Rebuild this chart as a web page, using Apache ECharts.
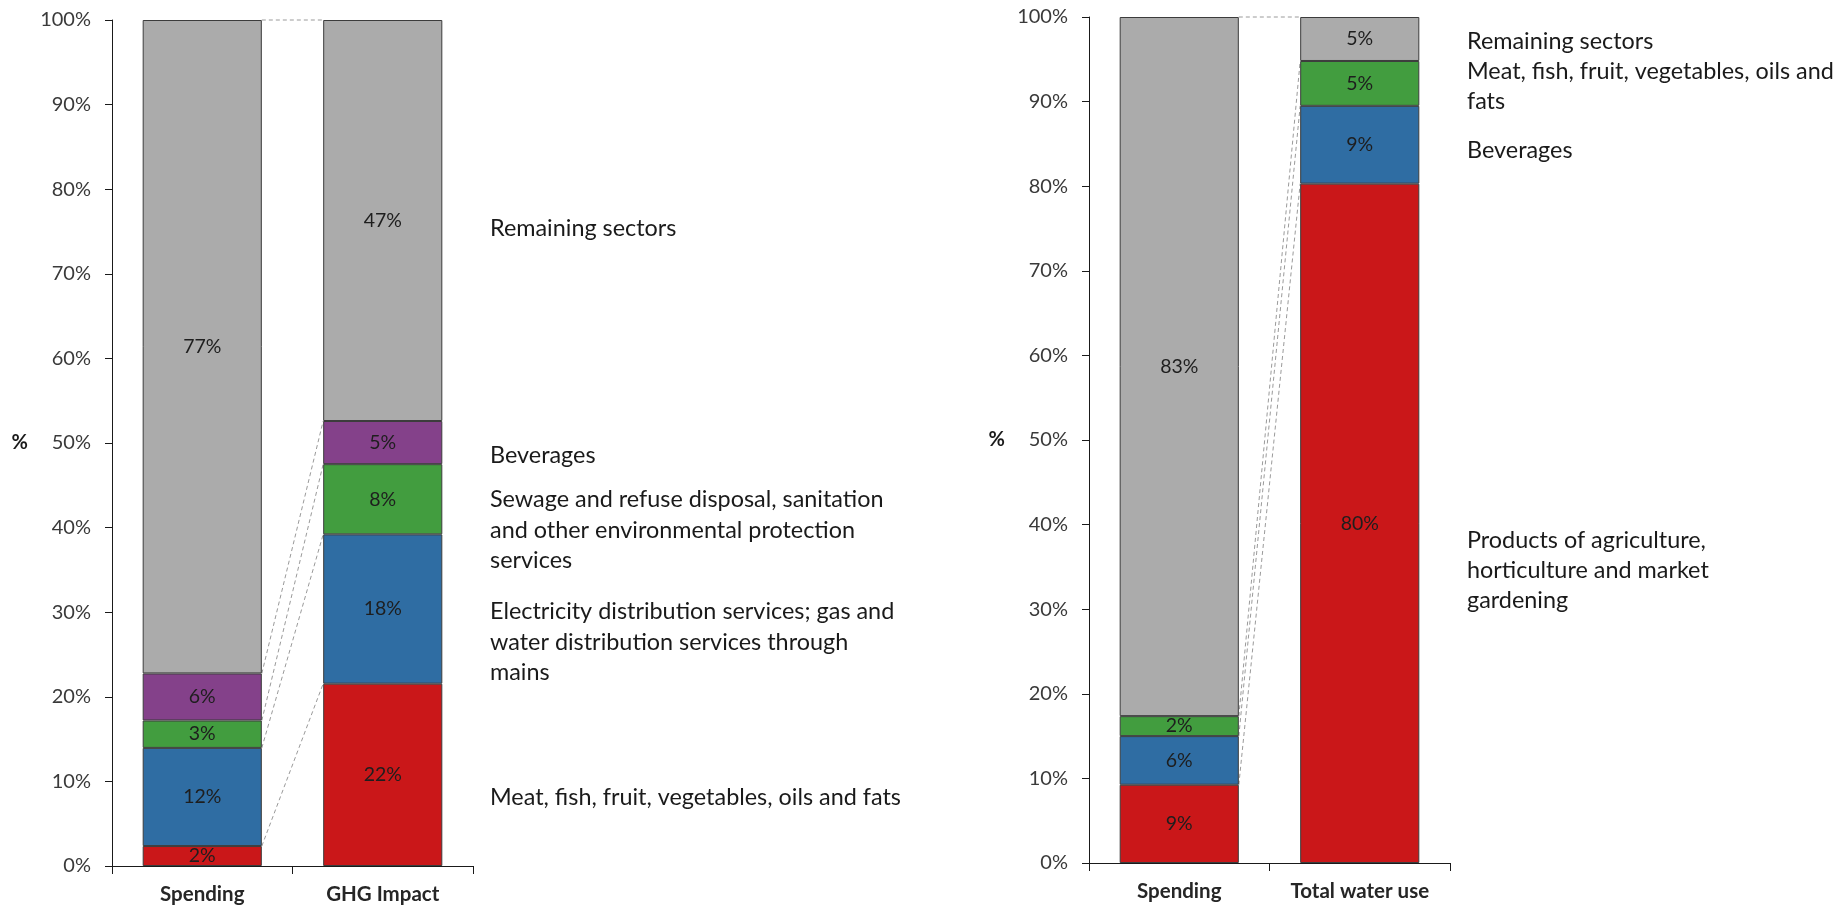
<!DOCTYPE html>
<html>
<head>
<meta charset="utf-8">
<script src="https://cdn.jsdelivr.net/npm/echarts@6/dist/echarts.min.js"></script>
<style>
  html, body { margin: 0; padding: 0; background: #ffffff; }
  #chart { width: 1847px; height: 907px; }
</style>
</head>
<body>
<div id="chart"></div>
<script>
// ---- Left panel: share of spending vs share of greenhouse-gas impact (%) ----
const ghgCategories = ['Spending', 'GHG Impact'];
const ghgMeat        = [2.36, 21.55];
const ghgElectricity = [11.6, 17.65];
const ghgSewage      = [3.24, 8.3];
const ghgBeverages   = [5.56, 5.1];
const ghgRemaining   = [77.24, 47.4];

// ---- Right panel: share of spending vs share of total water use (%) ----
const waterCategories  = ['Spending', 'Total water use'];
const waterAgriculture = [9.25, 80.3];
const waterBeverages   = [5.75, 9.2];
const waterMeat        = [2.36, 5.3];
const waterRemaining   = [82.64, 5.2];

// Sector names written beside each panel
const ghgSectorNames = [
  'Remaining sectors',
  'Beverages',
  'Sewage and refuse disposal, sanitation\nand other environmental protection\nservices',
  'Electricity distribution services; gas and\nwater distribution services through\nmains',
  'Meat, fish, fruit, vegetables, oils and fats'
];
const waterSectorNames = [
  'Remaining sectors',
  'Meat, fish, fruit, vegetables, oils and\nfats',
  'Beverages',
  'Products of agriculture,\nhorticulture and market\ngardening'
];

const COLORS = {
  red: '#CA1719',
  blue: '#2F6DA3',
  green: '#429D3F',
  purple: '#84418A',
  grey: '#ABABAB'
};
const FONT = 'Lato, "Open Sans", sans-serif';
const BAR_FRACTION = 0.66;

function barSeries(name, data, color, gridIdx) {
  return {
    name: name,
    type: 'bar',
    stack: 'stack' + gridIdx,
    xAxisIndex: gridIdx,
    yAxisIndex: gridIdx,
    barWidth: (BAR_FRACTION * 100) + '%',
    data: data,
    itemStyle: { color: color, borderColor: '#3c3c3c', borderWidth: 1 },
    label: {
      show: true,
      position: 'inside',
      formatter: p => Math.round(p.value) + '%',
      color: '#1e1e1e',
      fontFamily: FONT,
      fontSize: 19.5
    },
    emphasis: { disabled: true }
  };
}

// Cumulative segment tops, bottom to top, for each of the two bars
function cumulativeTops(stacks) {
  const tops = [];
  const run = [0, 0];
  stacks.forEach(s => {
    run[0] += s[0];
    run[1] += s[1];
    tops.push([run[0], run[1]]);
  });
  return tops;
}

// Dashed connectors from the top of each spending segment to the matching impact segment
function connectorSeries(stacks, gridIdx) {
  return {
    type: 'custom',
    xAxisIndex: gridIdx,
    yAxisIndex: gridIdx,
    silent: true,
    z: 1,
    dimensions: ['from', 'to'],
    encode: { y: [0, 1] },
    data: cumulativeTops(stacks),
    renderItem: function (params, api) {
      const band = api.size([1, 0])[0];
      const half = band * BAR_FRACTION / 2;
      const p0 = api.coord([0, api.value(0)]);
      const p1 = api.coord([1, api.value(1)]);
      return {
        type: 'line',
        shape: { x1: p0[0] + half, y1: p0[1], x2: p1[0] - half, y2: p1[1] },
        style: { stroke: '#9a9a9a', lineWidth: 1, lineDash: [4, 3] }
      };
    }
  };
}

function xAxis(cats, gridIdx) {
  return {
    type: 'category',
    gridIndex: gridIdx,
    data: cats,
    axisLine: { lineStyle: { color: '#1a1a1a', width: 1 } },
    axisTick: { show: true, alignWithLabel: false, length: 8, lineStyle: { color: '#1a1a1a' } },
    axisLabel: { color: '#262626', fontFamily: FONT, fontSize: 20.5, fontWeight: 'bold', margin: 18 },
    splitLine: { show: false }
  };
}

function yAxis(gridIdx) {
  return {
    type: 'value',
    gridIndex: gridIdx,
    min: 0,
    max: 100,
    interval: 10,
    name: '%',
    nameLocation: 'middle',
    nameRotate: 0,
    nameGap: 84,
    nameTextStyle: { color: '#1a1a1a', fontFamily: FONT, fontSize: 20, fontWeight: 'bold' },
    axisLine: { show: true, lineStyle: { color: '#1a1a1a', width: 1 } },
    axisTick: { show: true, length: 7, lineStyle: { color: '#1a1a1a' } },
    axisLabel: { color: '#3a3a3a', fontFamily: FONT, fontSize: 20, margin: 21, formatter: '{value}%' },
    splitLine: { show: false }
  };
}

function sectorText(text, x, yFirstCenter, lineHeight) {
  return {
    type: 'text',
    x: x,
    y: yFirstCenter - lineHeight / 2,
    silent: true,
    style: {
      text: text,
      fill: '#1a1a1a',
      fontFamily: FONT,
      fontSize: 23.4,
      lineHeight: lineHeight,
      verticalAlign: 'top',
      align: 'left'
    }
  };
}

const ghgStacks = [ghgMeat, ghgElectricity, ghgSewage, ghgBeverages, ghgRemaining];
const waterStacks = [waterAgriculture, waterBeverages, waterMeat, waterRemaining];

const chart = echarts.init(document.getElementById('chart'), null, { renderer: 'canvas' });
chart.setOption({
  animation: false,
  backgroundColor: '#ffffff',
  grid: [
    { left: 112, top: 20, width: 361, height: 846, containLabel: false, outerBoundsMode: 'none' },
    { left: 1089, top: 17, width: 361, height: 846, containLabel: false, outerBoundsMode: 'none' }
  ],
  xAxis: [xAxis(ghgCategories, 0), xAxis(waterCategories, 1)],
  yAxis: [yAxis(0), yAxis(1)],
  series: [
    barSeries('Meat, fish, fruit, vegetables, oils and fats', ghgMeat, COLORS.red, 0),
    barSeries('Electricity, gas and water distribution', ghgElectricity, COLORS.blue, 0),
    barSeries('Sewage and refuse disposal', ghgSewage, COLORS.green, 0),
    barSeries('Beverages', ghgBeverages, COLORS.purple, 0),
    barSeries('Remaining sectors', ghgRemaining, COLORS.grey, 0),
    connectorSeries(ghgStacks, 0),
    barSeries('Products of agriculture', waterAgriculture, COLORS.red, 1),
    barSeries('Beverages', waterBeverages, COLORS.blue, 1),
    barSeries('Meat, fish, fruit, vegetables, oils and fats', waterMeat, COLORS.green, 1),
    barSeries('Remaining sectors', waterRemaining, COLORS.grey, 1),
    connectorSeries(waterStacks, 1)
  ],
  graphic: [
    sectorText(ghgSectorNames[0], 490, 228, 30.5),
    sectorText(ghgSectorNames[1], 490, 455, 30.5),
    sectorText(ghgSectorNames[2], 490, 499.5, 30.5),
    sectorText(ghgSectorNames[3], 490, 611.5, 30.5),
    sectorText(ghgSectorNames[4], 490, 797, 30.5),
    sectorText(waterSectorNames[0], 1467, 41.7, 30),
    sectorText(waterSectorNames[1], 1467, 71.7, 30),
    sectorText(waterSectorNames[2], 1467, 150, 30),
    sectorText(waterSectorNames[3], 1467, 540, 30)
  ]
});
</script>
</body>
</html>
